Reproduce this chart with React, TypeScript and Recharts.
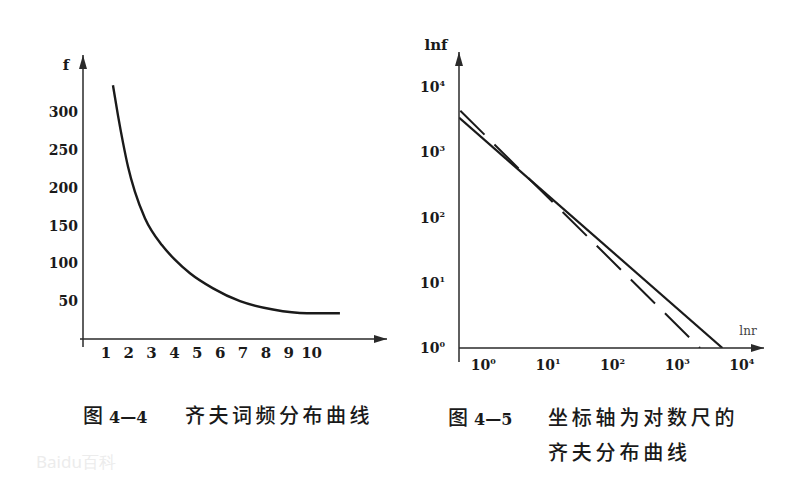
import { LineChart, Line, XAxis, YAxis } from 'recharts';

// 图 4-4: rank vs. frequency on linear axes
const rankValues = [1.31, 1.53, 1.75, 1.97, 2.27, 2.71, 3.46, 4.02, 4.68, 5.69, 6.87, 8.31, 9.8, 11.24];
const freqValues = [336, 296, 260, 228, 195, 160, 124, 105, 87, 67, 50, 39, 34, 34];
const rankTicks = [1, 2, 3, 4, 5, 6, 7, 8, 9, 10];
const freqTicks = [50, 100, 150, 200, 250, 300];

// 图 4-5: same law on log-log axes (solid = observed, dashed = ideal)
const observedRank = [0.42, 5000];
const observedFreq = [3450, 1];
const idealRank = [0.44, 2250];
const idealFreq = [4400, 1];
const logTicks = [1, 10, 100, 1000, 10000];

const INK = '#1a1a1a';
const AXIS = '#2a2a2a';
const SERIF = '"DejaVu Serif", "Liberation Serif", serif';
const CJK = '"Noto Sans CJK SC", "Noto Sans", sans-serif';

const zipfCurve = rankValues.map((r, i) => ({ x: r, y: freqValues[i] }));
const observedLine = observedRank.map((r, i) => ({ x: r, y: observedFreq[i] }));
const idealLine = idealRank.map((r, i) => ({ x: r, y: idealFreq[i] }));

function XArrow({ viewBox, caption, lead }: any) {
  const tipX = viewBox.x + viewBox.width;
  const y = viewBox.y;
  return (
    <g>
      <polygon points={`${tipX},${y} ${tipX - 13},${y - 4} ${tipX - 13},${y + 4}`} fill={AXIS} />
      {lead ? <line x1={viewBox.x - lead} y1={y} x2={viewBox.x} y2={y} stroke={AXIS} strokeWidth={1.5} /> : null}
      {caption && (
        <text x={tipX - 16} y={y - 13} textAnchor="middle" fontFamily={SERIF} fontSize={12} fill="#444">
          {caption}
        </text>
      )}
    </g>
  );
}

function YArrow({ viewBox, caption, capDx, capDy, tail }: any) {
  const axisX = viewBox.x + viewBox.width;
  const y = viewBox.y;
  const bottom = viewBox.y + viewBox.height;
  return (
    <g>
      <polygon points={`${axisX},${y} ${axisX - 4},${y + 14} ${axisX + 4},${y + 14}`} fill={AXIS} />
      <line x1={axisX} y1={bottom} x2={axisX} y2={bottom + tail} stroke={AXIS} strokeWidth={1.5} />
      <text x={axisX + capDx} y={y + capDy} textAnchor="middle" fontFamily={SERIF} fontWeight="bold" fontSize={15} fill={INK}>
        {caption}
      </text>
    </g>
  );
}

function PowerTick({ x, y, payload, textAnchor, vertical }: any) {
  const exp = Math.round(Math.log10(payload.value));
  return (
    <text
      x={x}
      y={y}
      dy={vertical ? '0.35em' : '0.85em'}
      textAnchor={textAnchor}
      fontFamily={SERIF}
      fontWeight="bold"
      fontSize={14}
      fill={INK}
    >
      10
      <tspan dy={-6} fontSize={8}>
        {exp}
      </tspan>
    </text>
  );
}

const linearTick = { fontFamily: SERIF, fontWeight: 'bold', fontSize: 14, fill: INK };

const captionStyle = {
  position: 'absolute' as const,
  fontFamily: CJK,
  fontSize: 20,
  fontWeight: 500,
  lineHeight: '24px',
  color: INK,
  whiteSpace: 'nowrap' as const,
};

export default function App() {
  return (
    <div style={{ position: 'absolute', left: 0, top: 0, width: 805, height: 494, background: '#fff', overflow: 'hidden' }}>
      <div style={{ position: 'absolute', left: 0, top: 0 }}>
        <LineChart width={400} height={380} margin={{ top: 55, right: 13, bottom: 11, left: 23 }}>
          <XAxis
            type="number"
            dataKey="x"
            domain={[0, 13.3]}
            ticks={rankTicks}
            allowDataOverflow
            height={30}
            tickLine={false}
            axisLine={{ stroke: AXIS, strokeWidth: 1.5 }}
            tick={{ ...linearTick, fontSize: 15 }}
            label={(p: any) => <XArrow viewBox={p.viewBox} lead={3} />}
          />
          <YAxis
            type="number"
            dataKey="y"
            domain={[0, 376]}
            ticks={freqTicks}
            allowDataOverflow
            width={60}
            tickLine={false}
            tickSize={3}
            tickMargin={2}
            axisLine={{ stroke: AXIS, strokeWidth: 1.5 }}
            tick={linearTick}
            label={(p: any) => <YArrow viewBox={p.viewBox} caption="f" capDx={-17} capDy={15} tail={8} />}
          />
          <Line
            data={zipfCurve}
            dataKey="y"
            type="monotone"
            stroke={INK}
            strokeWidth={2.4}
            dot={false}
            isAnimationActive={false}
          />
        </LineChart>
      </div>

      <div style={{ position: 'absolute', left: 400, top: 0 }}>
        <LineChart width={405} height={390} margin={{ top: 52, right: 41, bottom: 12, left: 9 }}>
          <XAxis
            type="number"
            dataKey="x"
            scale="log"
            domain={[0.42, 22000]}
            ticks={logTicks}
            allowDataOverflow
            height={30}
            tickLine={false}
            tickMargin={4}
            axisLine={{ stroke: AXIS, strokeWidth: 1.5 }}
            tick={(p: any) => <PowerTick {...p} />}
            label={(p: any) => <XArrow viewBox={p.viewBox} caption="lnr" />}
          />
          <YAxis
            type="number"
            dataKey="y"
            scale="log"
            domain={[1, 35000]}
            ticks={logTicks}
            allowDataOverflow
            width={50}
            tickLine={false}
            tickMargin={8}
            axisLine={{ stroke: AXIS, strokeWidth: 1.5 }}
            tick={(p: any) => <PowerTick {...p} vertical />}
            label={(p: any) => <YArrow viewBox={p.viewBox} caption="lnf" capDx={-23} capDy={-2} tail={14} />}
          />
          <Line
            data={observedLine}
            dataKey="y"
            type="linear"
            stroke={INK}
            strokeWidth={2.2}
            dot={false}
            isAnimationActive={false}
          />
          <Line
            data={idealLine}
            dataKey="y"
            type="linear"
            stroke={INK}
            strokeWidth={2}
            strokeDasharray="34 14"
            dot={false}
            isAnimationActive={false}
          />
        </LineChart>
      </div>

      <div style={{ ...captionStyle, left: 83, top: 403 }}>
        <span>图</span>
        <span style={{ fontFamily: SERIF, fontWeight: 'bold', fontSize: 16, marginLeft: 6 }}>4—4</span>
      </div>
      <div style={{ ...captionStyle, left: 185, top: 403, letterSpacing: 3.5 }}>齐夫词频分布曲线</div>

      <div style={{ ...captionStyle, left: 448, top: 405 }}>
        <span>图</span>
        <span style={{ fontFamily: SERIF, fontWeight: 'bold', fontSize: 16, marginLeft: 6 }}>4—5</span>
      </div>
      <div style={{ ...captionStyle, left: 548, top: 405, letterSpacing: 3.8 }}>坐标轴为对数尺的</div>
      <div style={{ ...captionStyle, left: 548, top: 440, letterSpacing: 3.8 }}>齐夫分布曲线</div>

      <div style={{ position: 'absolute', left: 36, top: 450, fontFamily: '"Noto Sans", sans-serif', fontSize: 17, color: '#ececec', whiteSpace: 'nowrap' }}>
        Baidu百科
      </div>
    </div>
  );
}
